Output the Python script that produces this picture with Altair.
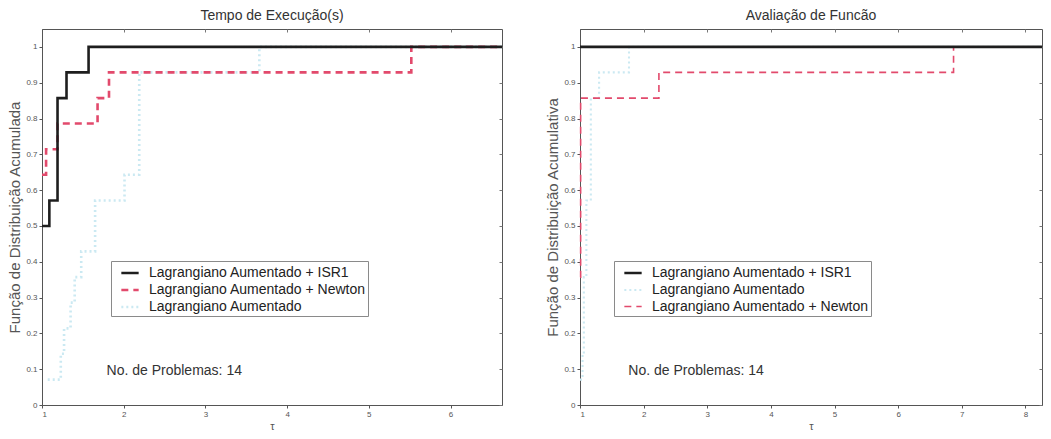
import altair as alt
import pandas as pd

FONT = "Liberation Sans"

ISR1 = "Lagrangiano Aumentado + ISR1"
NEWTON = "Lagrangiano Aumentado + Newton"
LA = "Lagrangiano Aumentado"

# Performance profile: execution time
tempo_isr1_tau = [1.00, 1.09, 1.19, 1.30, 1.57, 6.63]
tempo_isr1_rho = [0.500, 0.571, 0.857, 0.929, 1.000, 1.000]
tempo_newton_tau = [1.00, 1.05, 1.19, 1.68, 1.82, 5.52, 6.63]
tempo_newton_rho = [0.643, 0.714, 0.786, 0.857, 0.929, 1.000, 1.000]
tempo_la_tau = [1.07, 1.23, 1.27, 1.35, 1.40, 1.48, 1.65, 2.01, 2.19, 3.66, 6.63]
tempo_la_rho = [0.071, 0.143, 0.214, 0.286, 0.357, 0.429, 0.571, 0.643, 0.929, 1.000, 1.000]

# Performance profile: function evaluations
aval_isr1_tau = [1.00, 8.26]
aval_isr1_rho = [1.000, 1.000]
aval_newton_tau = [1.00, 1.01, 2.24, 6.87, 8.26]
aval_newton_rho = [0.357, 0.857, 0.929, 1.000, 1.000]
aval_la_tau = [1.00, 1.04, 1.06, 1.10, 1.17, 1.30, 1.77, 8.26]
aval_la_rho = [0.071, 0.143, 0.357, 0.571, 0.857, 0.929, 1.000, 1.000]

y_ticks = [0.0, 0.1, 0.2, 0.3, 0.4, 0.5, 0.6, 0.7, 0.8, 0.9, 1.0]
tempo_x_ticks = [1, 2, 3, 4, 5, 6]
aval_x_ticks = [1, 2, 3, 4, 5, 6, 7, 8]

note_text = "No. de Problemas: 14"
tempo_note = (1.79, 0.095)
aval_note = (1.76, 0.095)

COLORS = {ISR1: "#1e1e1e", NEWTON: "#e24a6c", LA: "#cbe9f2"}
DASHES = {ISR1: [1, 0], NEWTON: [7, 5], LA: [2, 3]}
WIDTHS = {ISR1: 2.6, NEWTON: 2.6, LA: 1.6}


def panel(title, ytitle, curves, order, xmax, xticks, width, note, legend_x):
    rows = []
    for name, (taus, rhos) in curves.items():
        for t, r in zip(taus, rhos):
            rows.append({"serie": name, "tau": t, "rho": r})
    df = pd.DataFrame(rows)

    xscale = alt.Scale(domain=[1, xmax], nice=False, zero=False)
    yscale = alt.Scale(domain=[0, 1.05], nice=False, zero=False)

    legend = alt.Legend(
        title=None, orient="none", legendX=legend_x, legendY=232,
        direction="vertical", symbolType="stroke", symbolSize=300,
        labelFontSize=14, labelFont=FONT, labelColor="#222", labelLimit=400,
        fillColor="white", strokeColor="#8a8a8a", padding=2, rowPadding=0,
        labelOffset=9, symbolOffset=7,
    )
    color = alt.Color("serie:N", scale=alt.Scale(domain=order, range=[COLORS[s] for s in order]), legend=legend)
    dash = alt.StrokeDash("serie:N", scale=alt.Scale(domain=order, range=[DASHES[s] for s in order]), legend=legend)
    sw = alt.StrokeWidth("serie:N", scale=alt.Scale(domain=order, range=[WIDTHS[s] for s in order]), legend=legend)

    x_axis = alt.Axis(values=xticks, format="d", title="τ", tickSize=3, labelFontSize=8,
                      labelColor="#555", titleFontSize=11, titleColor="#555", titleFontWeight="normal",
                      titlePadding=2, domainColor="#555", tickColor="#555", grid=False, labelFont=FONT,
                      titleFont=FONT)
    y_axis = alt.Axis(values=y_ticks, format="~g", title=ytitle, tickSize=3, labelFontSize=8,
                      labelColor="#555", titleFontSize=15, titleColor="#555", titleFontWeight="normal",
                      titlePadding=4, domainColor="#555", tickColor="#555", grid=False, labelFont=FONT,
                      titleFont=FONT, minExtent=16, maxExtent=16)

    layers = []
    for i, s in enumerate([LA, NEWTON, ISR1]):
        layers.append(
            alt.Chart(df).transform_filter(alt.datum.serie == s)
            .mark_line(interpolate="step-after", strokeCap="butt")
            .encode(
                x=alt.X("tau:Q", scale=xscale, axis=x_axis if i == 0 else None),
                y=alt.Y("rho:Q", scale=yscale, axis=y_axis if i == 0 else None),
                color=color, strokeDash=dash, strokeWidth=sw,
            )
        )

    note_df = pd.DataFrame({"tau": [note[0]], "rho": [note[1]], "label": [note_text]})
    mirror_x = alt.Axis(orient="top", values=xticks, labels=False, title=None, domain=False,
                        ticks=True, tickSize=3, offset=-3, tickColor="#777", grid=False,
                        minExtent=0, maxExtent=0)
    mirror_y = alt.Axis(orient="right", values=y_ticks, labels=False, title=None, domain=False,
                        ticks=True, tickSize=3, offset=-3, tickColor="#777", grid=False,
                        minExtent=0, maxExtent=0)
    notes = alt.Chart(note_df).mark_text(align="left", baseline="middle", fontSize=14,
                                         font=FONT, color="#333").encode(
        x=alt.X("tau:Q", scale=xscale, axis=mirror_x),
        y=alt.Y("rho:Q", scale=yscale, axis=mirror_y),
        text="label:N",
    )

    return alt.layer(*layers, notes).resolve_axis(x="independent", y="independent").properties(
        width=width, height=376,
        title=alt.TitleParams(title, fontSize=14, fontWeight="normal", color="#333", font=FONT, offset=6),
    )


left = panel(
    "Tempo de Execução(s)", "Função de Distribuição Acumulada",
    {LA: (tempo_la_tau, tempo_la_rho), NEWTON: (tempo_newton_tau, tempo_newton_rho),
     ISR1: (tempo_isr1_tau, tempo_isr1_rho)},
    [ISR1, NEWTON, LA], 6.63, tempo_x_ticks, 460, tempo_note, 69,
)
right = panel(
    "Avaliação de Funcão", "Função de Distribuição Acumulativa",
    {LA: (aval_la_tau, aval_la_rho), NEWTON: (aval_newton_tau, aval_newton_rho),
     ISR1: (aval_isr1_tau, aval_isr1_rho)},
    [ISR1, LA, NEWTON], 8.26, aval_x_ticks, 462, aval_note, 34,
)

chart = alt.hconcat(left, right, spacing=36).resolve_scale(
    color="independent", strokeDash="independent", strokeWidth="independent"
).properties(
    padding={"left": 6, "top": 8, "right": 2, "bottom": 2},
    background="white",
).configure_view(stroke="#555", strokeWidth=1)

chart.save("out.html", embed_options={"renderer": "svg", "actions": False})
